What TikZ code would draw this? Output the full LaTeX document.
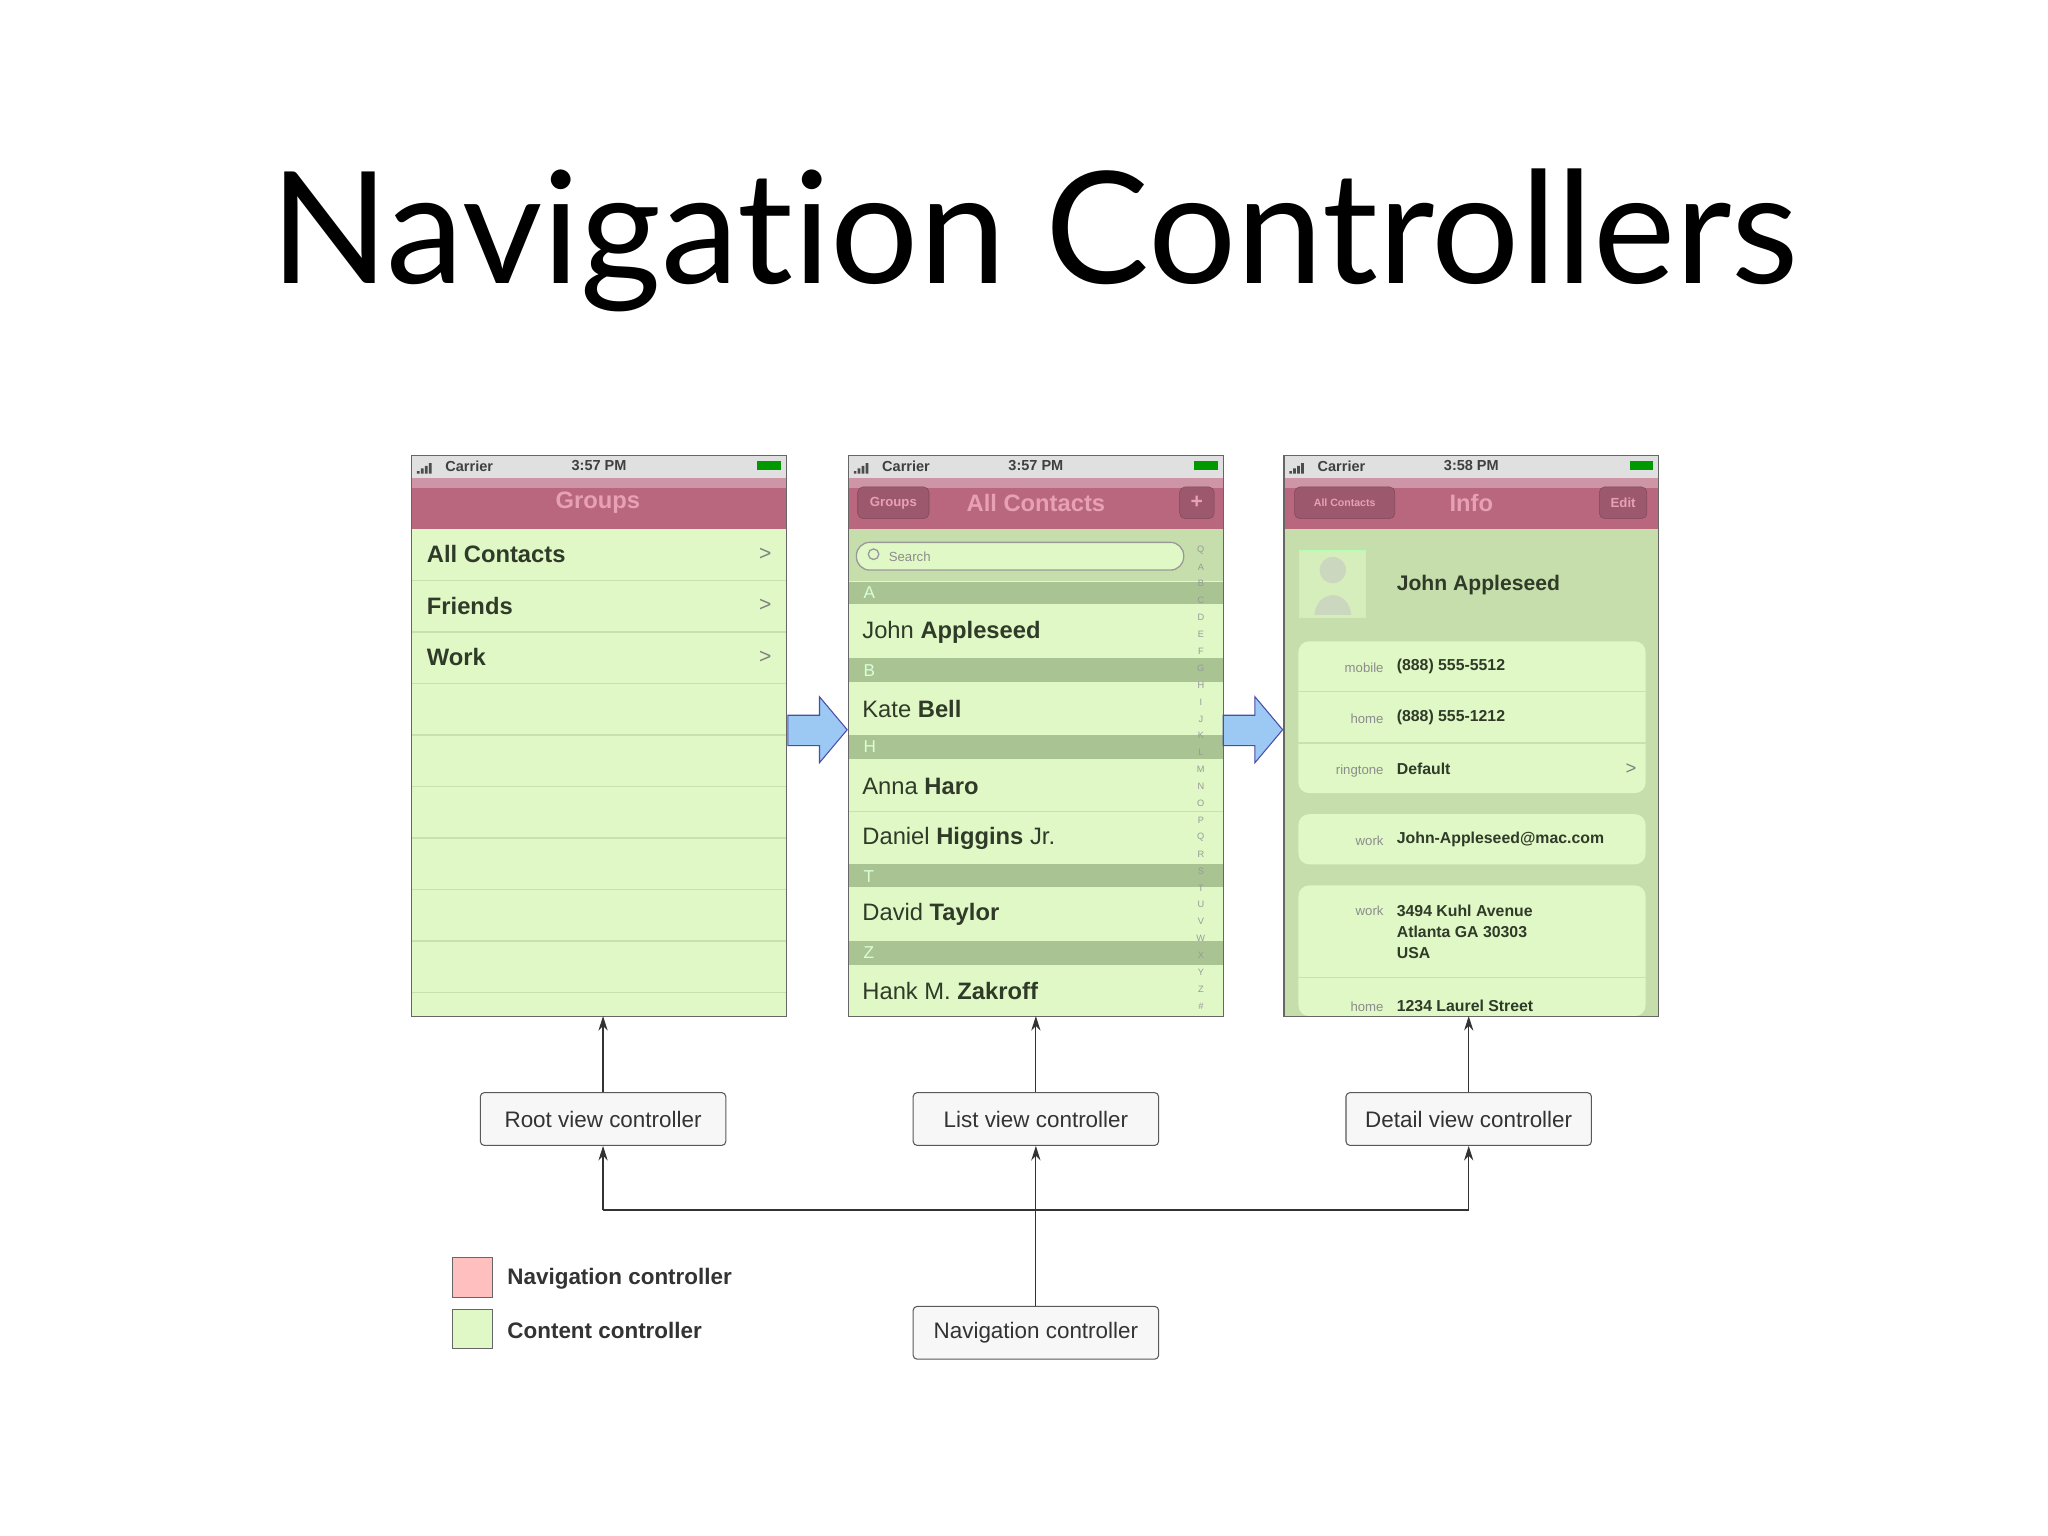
\documentclass[tikz,border=0pt]{standalone}
\usepackage{fontspec}
\setmainfont{Liberation Sans}
\newfontfamily\titlefont[Ligatures=NoCommon]{Lato}
\usetikzlibrary{arrows.meta,shapes.misc}
\definecolor{navpink}{HTML}{B8677F}
\definecolor{navtxt}{HTML}{E8A0B4}
\definecolor{rowgreen}{HTML}{E0F8C6}
\definecolor{sepgreen}{HTML}{C9E0B0}
\definecolor{hdrgreen}{HTML}{A9C492}
\definecolor{darkgreen}{HTML}{C6DEAC}
\definecolor{txt}{HTML}{2F3A28}
\definecolor{arrblue}{HTML}{9CC8F4}
\tikzset{x=1pt,y=-1pt,
 phone/.style={draw=black!60,line width=0.8pt},
 ctrl/.style={draw=black!65,rounded corners=3pt,fill=black!3,line width=0.8pt,minimum width=186pt,minimum height=40pt,font=\fontsize{17}{17}\selectfont,text=black!80},
 conn/.style={-{Stealth[length=11pt,width=7pt]},line width=0.9pt,black!80},
 rowtxt/.style={anchor=west,font=\fontsize{18}{18}\selectfont,text=txt},
 small/.style={font=\fontsize{12}{12}\selectfont\bfseries,text=txt},
 lbl/.style={font=\fontsize{10}{10}\selectfont,text=black!45},
 status/.style={font=\fontsize{11}{11}\selectfont\bfseries,text=black!75},
 btn/.style={draw=navpink!70!black,fill=navpink!85!black,rounded corners=4pt,font=\fontsize{10}{10}\selectfont\bfseries,text=navtxt},
}
\begin{document}
\begin{tikzpicture}
\useasboundingbox[fill=white] (0,0) rectangle (1552,1164);
\node[font=\titlefont\fontsize{118}{120}\selectfont] (title) at (784,182) {Navigation Controllers};
% generic phone frames
\foreach \x/\t in {312/3:57 PM,643/3:57 PM,973/3:58 PM}{
  \fill[black!12] (\x,345) rectangle ++(284,17);
  \fill[navpink] (\x,362) rectangle ++(284,39);
  \fill[navpink!70!white] (\x,362) rectangle ++(284,8);
  \node[status,anchor=west] at (\x+22,353) {Carrier};
  \node[status] at (\x+142,353) {\t};
  \fill[black!70] (\x+4,357) rectangle ++(2,2) (\x+7,355) rectangle ++(2,4) (\x+10,353) rectangle ++(2,6) (\x+13,351) rectangle ++(2,8);
  \fill[green!60!black] (\x+262,349) rectangle ++(18,7);
}
% phone 1
\fill[rowgreen] (312,401) rectangle (596,770);
\foreach \y in {440,479,518,557,596,635,674,713,752}{\draw[sepgreen,line width=1pt] (312,\y)--(596,\y);}
\node[font=\fontsize{18}{18}\selectfont\bfseries,text=navtxt] at (453,381) {Groups};
\foreach \y/\t in {420/All Contacts,459/Friends,498/Work}{
  \node[rowtxt,font=\fontsize{18}{18}\selectfont\bfseries] at (320,\y) {\t};
  \node[font=\fontsize{16}{16}\selectfont,text=black!50] at (580,\y) {\textgreater};}
\draw[phone] (312,345) rectangle (596,770);
% phone 2
\fill[rowgreen] (643,401) rectangle (927,770);
\fill[darkgreen] (643,401) rectangle (927,440);
\draw[black!40,fill=rowgreen,line width=1pt,rounded corners=10pt] (649,411) rectangle (897,432);
\node[lbl,anchor=west] at (670,422) {Search};
\draw[black!40,line width=1pt] (662,420) circle (4);
\foreach \a/\b in {441/458,499/517,557/575,655/672,713/731}{\fill[hdrgreen] (643,\a) rectangle (927,\b);}
\foreach \y in {615}{\draw[sepgreen,line width=1pt] (643,\y)--(927,\y);}
\foreach \y/\l in {449/A,508/B,566/H,664/T,722/Z}{\node[anchor=west,font=\fontsize{13}{13}\selectfont,text=white!85!green] at (651,\y) {\l};}
\node[rowtxt] at (650,479) {John \textbf{Appleseed}};
\node[rowtxt] at (650,537) {Kate \textbf{Bell}};
\node[rowtxt] at (650,596) {Anna \textbf{Haro}};
\node[rowtxt] at (650,635) {Daniel \textbf{Higgins} Jr.};
\node[rowtxt] at (650,693) {David \textbf{Taylor}};
\node[rowtxt] at (650,751) {Hank M. \textbf{Zakroff}};
\foreach \l [count=\i] in {Q,A,B,C,D,E,F,G,H,I,J,K,L,M,N,O,P,Q,R,S,T,U,V,W,X,Y,Z,\#}{\node[font=\fontsize{7}{7}\selectfont,text=black!40] at (910,404+12.8*\i) {\l};}
\node[font=\fontsize{18}{18}\selectfont\bfseries,text=navtxt] at (785,381) {All Contacts};
\node[btn,minimum width=54pt,minimum height=24pt] at (677,381) {Groups};
\node[btn,minimum width=26pt,minimum height=24pt,font=\fontsize{16}{16}\selectfont\bfseries] at (907,381) {+};
\draw[phone] (643,345) rectangle (927,770);
% phone 3
\fill[darkgreen] (973,401) rectangle (1257,770);
\node[font=\fontsize{18}{18}\selectfont\bfseries,text=navtxt] at (1115,381) {Info};
\node[btn,minimum width=76pt,minimum height=24pt,font=\fontsize{8}{8}\selectfont\bfseries] at (1019,381) {All Contacts};
\node[btn,minimum width=36pt,minimum height=24pt] at (1230,381) {Edit};
\draw[white!70!green,fill=rowgreen!60!darkgreen,line width=1pt] (985,417) rectangle (1035,468);
\fill[darkgreen!85!black!60!white] (1010,432) circle (10) (996,466) .. controls (998,446) and (1022,446) .. (1024,466) -- cycle;
\node[font=\fontsize{16}{16}\selectfont\bfseries,text=txt,anchor=west] at (1055,443) {John Appleseed};
\foreach \a/\b in {486/601,617/655,671/770}{\fill[rowgreen,rounded corners=8pt] (984,\a) rectangle (1247,\b);}
\foreach \y in {524,563,741}{\draw[sepgreen,line width=1pt] (984,\y)--(1247,\y);}
\node[lbl,anchor=east] at (1052,506) {mobile}; \node[small,anchor=west] at (1055,505) {(888) 555-5512};
\node[lbl,anchor=east] at (1052,545) {home}; \node[small,anchor=west] at (1055,544) {(888) 555-1212};
\node[lbl,anchor=east] at (1052,584) {ringtone}; \node[small,anchor=west] at (1055,583) {Default};
\node[font=\fontsize{14}{14}\selectfont,text=black!50] at (1236,583) {\textgreater};
\node[lbl,anchor=east] at (1052,637) {work}; \node[small,anchor=west] at (1055,636) {John-Appleseed@mac.com};
\node[lbl,anchor=east] at (1052,690) {work}; \node[small,anchor=north west,align=left,font=\fontsize{12}{16}\selectfont\bfseries] at (1055,682) {3494 Kuhl Avenue\\Atlanta GA 30303\\USA};
\node[lbl,anchor=east] at (1052,763) {home}; \node[small,anchor=west] at (1055,762) {1234 Laurel Street};
\draw[phone] (973,345) rectangle (1257,770);
% blue arrows
\foreach \x in {597,927}{
  \draw[fill=arrblue,draw=blue!50!black!70,line width=0.8pt] (\x,542)--(\x+24,542)--(\x+24,528)--(\x+45,553)--(\x+24,578)--(\x+24,565)--(\x,565)--cycle;}
% controllers
\node[ctrl] (root) at (457,848) {Root view controller};
\node[ctrl] (list) at (785,848) {List view controller};
\node[ctrl] (detail) at (1113,848) {Detail view controller};
\node[ctrl] (nav) at (785,1010) {Navigation controller};
\coordinate (p1) at (457,770); \coordinate (p2) at (785,770); \coordinate (p3) at (1113,770);
\draw[conn] (root) -- (p1);
\draw[conn] (list) -- (p2);
\draw[conn] (detail) -- (p3);
\coordinate (jl) at (457,917); \coordinate (jr) at (1113,917); \coordinate (jm) at (785,917);
\draw[line width=0.9pt,black!80] (jl)--(jr);
\draw[line width=0.9pt,black!80] (nav.north)--(jm);
\draw[conn] (jl) -- (root.south);
\draw[conn] (jm) -- (list.south);
\draw[conn] (jr) -- (detail.south);
% legend
\node[draw=black!60,fill=red!25,minimum size=30pt,inner sep=0pt] (lg1) at (358,968) {};
\node[draw=black!60,fill=rowgreen,minimum size=30pt,inner sep=0pt] (lg2) at (358,1007) {};
\node[anchor=west,font=\fontsize{17}{17}\selectfont\bfseries,text=black!80] at (381,969) {Navigation controller};
\node[anchor=west,font=\fontsize{17}{17}\selectfont\bfseries,text=black!80] at (381,1008) {Content controller};
\end{tikzpicture}
\end{document}
